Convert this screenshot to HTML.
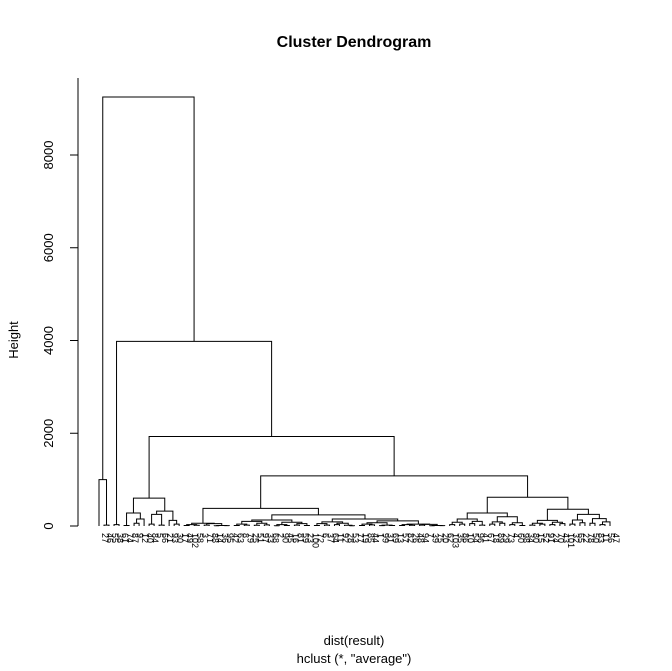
<!DOCTYPE html>
<html><head><meta charset="utf-8"><style>
html,body{margin:0;padding:0;background:#fff}
svg{display:block;font-family:"Liberation Sans",Arial,sans-serif}
</style></head><body>
<svg id="chart" width="672" height="671" viewBox="0 0 672 671">
<text x="354" y="47" text-anchor="middle" font-size="16" font-weight="bold">Cluster Dendrogram</text>
<text transform="translate(18,340) rotate(-90)" text-anchor="middle" font-size="13">Height</text>
<text x="354" y="645" text-anchor="middle" font-size="13">dist(result)</text>
<text x="354" y="663" text-anchor="middle" font-size="13">hclust (*, "average")</text>
<g id="axis"></g>
<g id="tree"></g>
<g id="labels"></g>
</svg>
<script>
const yTicks = [0, 2000, 4000, 6000, 8000];
const leafLabels = [27,46,55,38,61,74,87,9,12,40,84,5,66,21,93,30,17,49,102,58,3,71,88,14,36,95,42,63,8,79,25,51,97,33,68,2,90,45,16,81,59,23,100,72,6,37,64,11,92,28,53,77,19,85,44,1,99,31,69,13,57,82,26,48,94,7,39,75,20,62,103,35,86,10,54,96,41,67,18,89,29,73,4,60,98,34,80,15,52,91,24,70,43,101,32,65,22,78,50,83,11,56,47];
const tree =
[9250,[1000,0,[20,1,2]],
 [3980,[30,3,4],
  [1930,
   [600,[280,[10,5,6],[150,[60,7,8],9]],
        [320,[250,[40,10,11],[20,12,13]],[120,14,[40,15,16]]]],
   [1080,
    [380,[60,[30,[10,17,18],[15,19,20]],[50,[20,21,22],[10,[5,23,24],[8,25,26]]]],
         [240,[130,[100,[40,[10,27,28],[20,29,30]],[60,[15,31,32],[25,33,34]]],[80,[30,[5,35,36],[12,37,38]],[50,[20,39,40],[10,41,42]]]],
              [150,[90,[50,[10,43,44],[20,45,46]],[60,[30,47,48],[15,49,[5,50,51]]]],
                   [110,[70,[40,[10,52,53],[25,54,55]],[20,[8,56,57],[12,58,59]]],[40,[30,[10,60,61],[15,62,63]],[35,[20,64,65],[10,[5,66,67],[8,68,69]]]]]]]],
    [620,[280,[150,[80,[30,70,71],[40,72,73]],[100,[50,74,75],[20,76,77]]],[200,[90,[40,78,79],[60,80,81]],[70,[30,82,83],[10,84,85]]]],
         [360,[120,[60,[20,86,87],[40,88,89]],[80,[30,90,91],[50,92,93]]],[250,[130,[40,94,95],[70,96,97]],[160,[60,98,99],[90,[30,100,101],102]]]]]]]]];

const NS="http://www.w3.org/2000/svg";
const y0=526, yScale=371/8000;
function yPos(v){return y0 - v*yScale;}
const xLeft=99, xRight=610, nLeaves=leafLabels.length;
function xPos(i){return xLeft + i*(xRight-xLeft)/(nLeaves-1);}
const axis=document.getElementById('axis');
const tg=document.getElementById('tree');
const lg=document.getElementById('labels');
function mk(tag,attrs,parent){const e=document.createElementNS(NS,tag);for(const k in attrs)e.setAttribute(k,attrs[k]);parent.appendChild(e);return e;}
let al=mk('line',{x1:78,x2:78,y1:yPos(0),y2:78,stroke:'#000'},axis);


yTicks.forEach(t=>{
  const tk=mk('line',{x1:70,x2:78,y1:yPos(t),y2:yPos(t),stroke:'#000'},axis);
  
  
  const tx=mk('text',{transform:`translate(53,${yPos(t)}) rotate(-90)`,'text-anchor':'middle','font-size':13},axis);
  tx.textContent=t;
  
  
});
let leafIdx=0;
function draw(node){
  if(typeof node==='number'){
    const x=xPos(leafIdx++);
    const t=mk('text',{transform:`translate(${x+3},533) rotate(90)`,'font-size':9},lg);
    t.textContent=leafLabels[node];
    
    
    return {x:x,h:0};
  }
  const l=draw(node[1]), r=draw(node[2]);
  const yh=yPos(node[0]);
  const p=mk('path',{d:`M${l.x},${yPos(l.h)}V${yh}H${r.x}V${yPos(r.h)}`,fill:'none',stroke:'#000','stroke-width':1},tg);
  
  
  return {x:(l.x+r.x)/2,h:node[0]};
}
draw(tree);
</script>
</body></html>
